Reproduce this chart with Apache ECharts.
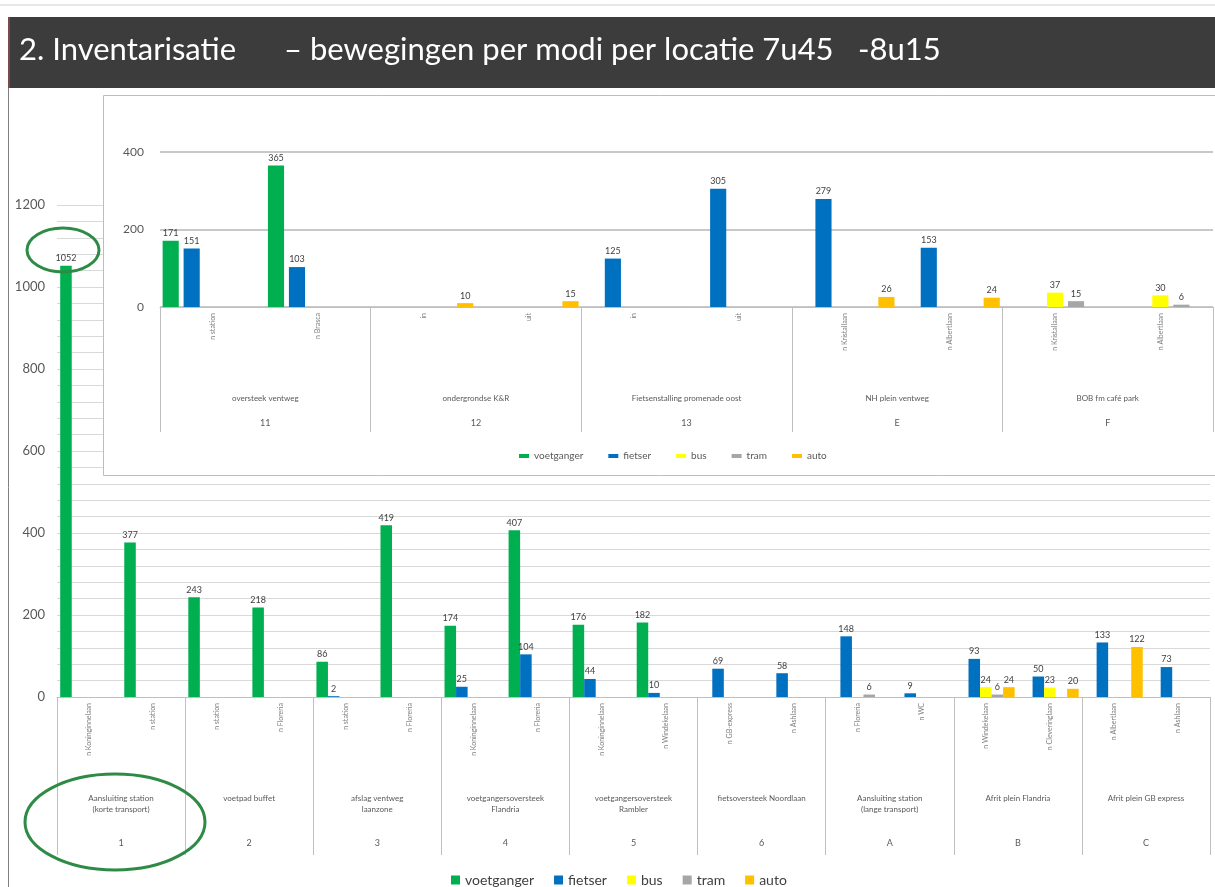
<!DOCTYPE html>
<html>
<head>
<meta charset="utf-8">
<script src="https://cdn.jsdelivr.net/npm/echarts@6/dist/echarts.min.js"></script>
<style>
html, body { margin: 0; padding: 0; background: #fff; }
#chart { width: 1215px; height: 887px; }
</style>
</head>
<body>
<div id="chart"></div>
<script>
// modi (legenda)
var modi = ['voetganger', 'fietser', 'bus', 'tram', 'auto'];
var kleuren = ['#00b050', '#0070c0', '#ffff00', '#a6a6a6', '#ffc000'];

// hoofdgrafiek: locaties 1-6, A-C
var hoofdRichting = ['n Koninginnelaan', 'n station', 'n station', 'n Floreria', 'n station', 'n Floreria',
    'n Koninginnelaan', 'n Floreria', 'n Koninginnelaan', 'n Windekelaan', 'n GB-express', 'n Ashlaan',
    'n Floreria', 'n WC', 'n Windekelaan', 'n Cleveringlaan', 'n Albertlaan', 'n Ashlaan'];
var hoofdLocatie = ['Aansluiting station\n(korte transport)', 'voetpad buffet', 'afslag ventweg\nlaanzone',
    'voetgangersoversteek\nFlandria', 'voetgangersoversteek\nRambler', 'fietsoversteek Noordlaan',
    'Aansluiting station\n(lange transport)', 'Afrit plein Flandria', 'Afrit plein GB express'];
var hoofdNummer = ['1', '2', '3', '4', '5', '6', 'A', 'B', 'C'];
var hoofdVoet  = [1052, 377, 243, 218, 86, 419, 174, 407, 176, 182, null, null, null, null, null, null, null, null];
var hoofdFiets = [null, null, null, null, 2, null, 25, 104, 44, 10, 69, 58, 148, 9, 93, 50, 133, 73];
var hoofdBus   = [null, null, null, null, null, null, null, null, null, null, null, null, null, null, 24, 23, null, null];
var hoofdTram  = [null, null, null, null, null, null, null, null, null, null, null, null, 6, null, 6, null, null, null];
var hoofdAuto  = [null, null, null, null, null, null, null, null, null, null, null, null, null, null, 24, 20, 122, null];

// inzet: locaties 11-13, E, F
var inzetRichting = ['n station', 'n Brasca', 'in', 'uit', 'in', 'uit',
    'n Kristallaan', 'n Albertlaan', 'n Kristallaan', 'n Albertlaan'];
var inzetLocatie = ['oversteek ventweg', 'ondergrondse K&R', 'Fietsenstalling promenade oost', 'NH plein ventweg', 'BOB fm café park'];
var inzetNummer = ['11', '12', '13', 'E', 'F'];
var inzetVoet  = [171, 365, null, null, null, null, null, null, null, null];
var inzetFiets = [151, 103, null, null, 125, 305, 279, 153, null, null];
var inzetBus   = [null, null, null, null, null, null, null, null, 37, 30];
var inzetTram  = [null, null, null, null, null, null, null, null, 15, 6];
var inzetAuto  = [null, null, 10, 15, null, null, 26, 24, null, null];

var hoofdData = [hoofdVoet, hoofdFiets, hoofdBus, hoofdTram, hoofdAuto];
var inzetData = [inzetVoet, inzetFiets, inzetBus, inzetTram, inzetAuto];

var font = 'Lato, "Liberation Sans", sans-serif';
var grijs = '#bfbfbf';

var series = [];
modi.forEach(function (m, i) {
    series.push({
        name: m, type: 'bar', xAxisIndex: 0, yAxisIndex: 0,
        data: hoofdData[i], barGap: '0%', barCategoryGap: '10%',
        itemStyle: { color: kleuren[i] },
        label: { show: true, position: 'top', distance: 3, fontSize: 9, color: '#404040', fontFamily: font }
    });
});
modi.forEach(function (m, i) {
    series.push({
        name: m, type: 'bar', xAxisIndex: 3, yAxisIndex: 1, z: 12,
        data: inzetData[i], barGap: '30%', barCategoryGap: '5%',
        itemStyle: { color: kleuren[i] },
        label: { show: true, position: 'top', distance: 3, fontSize: 9, color: '#404040', fontFamily: font }
    });
});

// as met de richtingen (gedraaide labels)
function richtingAs(grid, data, z) {
    return {
        type: 'category', gridIndex: grid, data: data, z: z,
        axisLine: { onZero: false, lineStyle: { color: grijs } },
        axisTick: { show: false },
        axisLabel: { interval: 0, rotate: 90, margin: 6, fontSize: 7, color: '#7f7f7f' }
    };
}
// as met locatienamen, tick = scheidingslijn tussen de groepen
function groepAs(grid, data, tick, margin, z) {
    return {
        type: 'category', gridIndex: grid, position: 'bottom', data: data, z: z,
        axisLine: { show: false, onZero: false },
        axisTick: { show: true, interval: 0, alignWithLabel: false, length: tick, lineStyle: { color: grijs } },
        axisLabel: { interval: 0, margin: margin, fontSize: 8, lineHeight: 11, color: '#595959', fontFamily: font }
    };
}
function nummerAs(grid, data, offset, z) {
    return {
        type: 'category', gridIndex: grid, position: 'bottom', offset: offset, data: data, z: z,
        axisLine: { show: false, onZero: false }, axisTick: { show: false },
        axisLabel: { interval: 0, margin: 0, fontSize: 9, color: '#595959', fontFamily: font }
    };
}

var option = {
    animation: false,
    textStyle: { fontFamily: font },
    grid: [
        { left: 57, right: 5, top: 205, height: 492 },
        { left: 160, right: 2, top: 152, height: 155 }
    ],
    legend: [
        { data: modi, top: 868, left: 446, icon: 'rect', itemWidth: 9, itemHeight: 9, itemGap: 20,
          textStyle: { fontSize: 14, color: '#404040' } },
        { data: modi, top: 446, left: 514, icon: 'rect', itemWidth: 10, itemHeight: 4, itemGap: 25, z: 10,
          textStyle: { fontSize: 10, color: '#595959' } }
    ],
    xAxis: [
        richtingAs(0, hoofdRichting, 0),
        groepAs(0, hoofdLocatie, 158, 96, 0),
        nummerAs(0, hoofdNummer, 142, 0),
        richtingAs(1, inzetRichting, 10),
        groepAs(1, inzetLocatie, 125, 86, 10),
        nummerAs(1, inzetNummer, 112, 10)
    ],
    yAxis: [
        { type: 'value', gridIndex: 0, min: 0, max: 1200, interval: 200,
          axisLine: { show: false }, axisTick: { show: false },
          axisLabel: { fontSize: 13, color: '#595959', margin: 12, formatter: function (v) { return String(v); } },
          splitLine: { lineStyle: { color: '#d9d9d9' } },
          minorTick: { show: false, splitNumber: 5 },
          minorSplitLine: { show: true, lineStyle: { color: '#d9d9d9' } } },
        { type: 'value', gridIndex: 1, min: 0, max: 400, interval: 200, z: 10,
          axisLine: { show: false }, axisTick: { show: false },
          axisLabel: { fontSize: 12, color: '#595959', margin: 16 },
          splitLine: { lineStyle: { color: '#c8c8c8', width: 2 } } }
    ],
    graphic: [
        { type: 'line', z: 1, shape: { x1: 0, y1: 5, x2: 1215, y2: 5 }, style: { stroke: '#cfcfcf', lineWidth: 1 } },
        { type: 'rect', z: 1, shape: { x: 8, y: 17, width: 1207, height: 71 }, style: { fill: '#3c3c3c' } },
        { type: 'rect', z: 1, shape: { x: 8, y: 17, width: 2, height: 71 }, style: { fill: '#7a4a4a' } },
        { type: 'text', z: 2, x: 19, y: 50, style: { text: '2. Inventarisatie', fill: '#fff', fontSize: 31, fontFamily: font, verticalAlign: 'middle' } },
        { type: 'text', z: 2, x: 284, y: 50, style: { text: '– bewegingen per modi per locatie 7u45', fill: '#fff', fontSize: 31, fontFamily: font, verticalAlign: 'middle' } },
        { type: 'text', z: 2, x: 858, y: 50, style: { text: '-8u15', fill: '#fff', fontSize: 31, fontFamily: font, verticalAlign: 'middle' } },
        { type: 'line', z: 1, shape: { x1: 8.5, y1: 88, x2: 8.5, y2: 887 }, style: { stroke: '#7f7f7f', lineWidth: 1 } },
        { type: 'rect', z: 5, shape: { x: 103.5, y: 95.5, width: 1115, height: 380 },
          style: { fill: '#fff', stroke: '#bdbdbd', lineWidth: 1 } },
        { type: 'ellipse', z: 20, shape: { cx: 63, cy: 250, rx: 36, ry: 22 },
          style: { fill: null, stroke: '#2e8b45', lineWidth: 3 } },
        { type: 'ellipse', z: 20, shape: { cx: 115, cy: 822, rx: 90, ry: 48 },
          style: { fill: null, stroke: '#2e8b45', lineWidth: 3 } }
    ],
    series: series
};

var myChart = echarts.init(document.getElementById('chart'));
myChart.setOption(option);
</script>
</body>
</html>
